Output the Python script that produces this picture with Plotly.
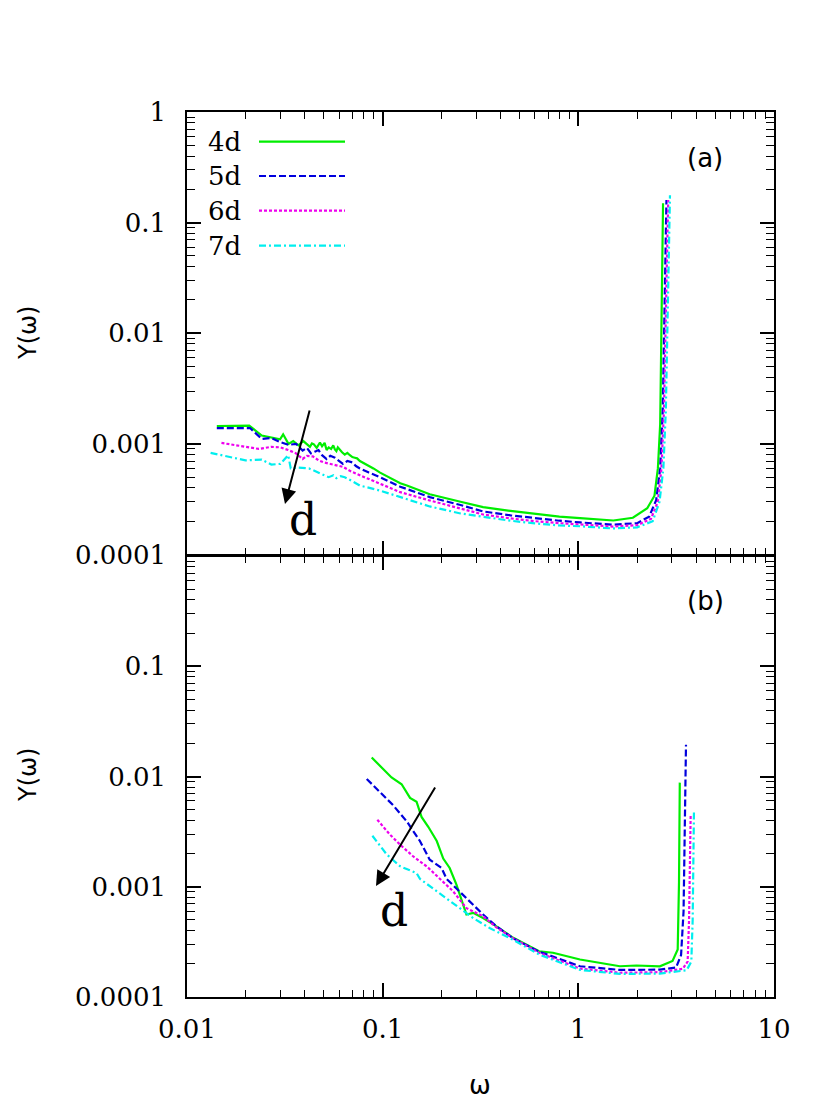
import plotly.graph_objects as go
from plotly.subplots import make_subplots

# ---------------- panel (a) ----------------
w_a_4d = [0.0142, 0.0208, 0.0241, 0.027, 0.0299, 0.031, 0.033, 0.0349, 0.0371, 0.0393, 0.0415, 0.0425,
          0.0435, 0.0445, 0.046, 0.0478, 0.049, 0.0505, 0.0517, 0.053, 0.0545, 0.0559, 0.057, 0.058, 0.059,
          0.0605, 0.062, 0.064, 0.066, 0.068, 0.070, 0.072, 0.074, 0.0765, 0.079, 0.082, 0.0897,
          0.097, 0.105, 0.123, 0.133, 0.174, 0.25, 0.326, 0.45, 0.587, 0.8, 1.02, 1.51, 1.9, 2.25,
          2.45, 2.55, 2.62, 2.66, 2.69, 2.71]
y_a_4d = [0.00145, 0.00146, 0.00119, 0.00114, 0.0011, 0.00122, 0.00100, 0.00106, 0.00097, 0.00106, 0.00098, 0.00094,
          0.00101, 0.00099, 0.00092, 0.00103, 0.00095, 0.00102, 0.00088, 0.00093, 0.00090, 0.00097, 0.00089, 0.00086, 0.00093,
          0.00088, 0.00084, 0.00080, 0.00083, 0.00079, 0.00076, 0.00075, 0.00074, 0.00070, 0.00068, 0.00066, 0.00060,
          0.00055, 0.00051, 0.00044, 0.00042, 0.00035, 0.00030, 0.000268, 0.000248, 0.000233, 0.00022, 0.000213,
          0.000203, 0.000215, 0.000262, 0.00034, 0.0006, 0.0015, 0.008, 0.05, 0.15]

w_a_5d = [0.0142, 0.021, 0.0241, 0.027, 0.0299, 0.033, 0.0361, 0.039, 0.041, 0.043, 0.045, 0.047, 0.049,
          0.0517, 0.054, 0.057, 0.060, 0.0627, 0.066, 0.07, 0.073, 0.0765, 0.085, 0.097, 0.123, 0.174,
          0.25, 0.326, 0.45, 0.6, 0.8, 1.02, 1.5, 2.0, 2.3, 2.5, 2.62, 2.7, 2.75, 2.79, 2.82]
y_a_5d = [0.00139, 0.00139, 0.00111, 0.00113, 0.00104, 0.00098, 0.00100, 0.00087, 0.00092, 0.00082, 0.00085, 0.00088,
          0.00079, 0.00073, 0.00078, 0.00075, 0.00070, 0.00066, 0.00070, 0.00068, 0.00063, 0.00060, 0.00055, 0.00050,
          0.00041, 0.00033, 0.00028, 0.000245, 0.000226, 0.000212, 0.000202, 0.000195, 0.000186, 0.000192, 0.00022,
          0.00031, 0.0006, 0.002, 0.01, 0.05, 0.16]

w_a_6d = [0.015, 0.0199, 0.0233, 0.027, 0.030, 0.0329, 0.0361, 0.039, 0.041, 0.044, 0.047, 0.050, 0.055,
          0.058, 0.0627, 0.068, 0.0765, 0.096, 0.123, 0.174, 0.25, 0.326, 0.45, 0.6, 0.8, 1.02, 1.5, 2.0,
          2.35, 2.55, 2.66, 2.74, 2.8, 2.84, 2.88]
y_a_6d = [0.00102, 0.00094, 0.00090, 0.00094, 0.00093, 0.00088, 0.00082, 0.00073, 0.00078, 0.00077, 0.00071, 0.00068,
          0.00066, 0.00064, 0.00062, 0.00057, 0.00052, 0.00044, 0.000366, 0.000308, 0.00026, 0.00023, 0.000212, 0.0002,
          0.000192, 0.000187, 0.000179, 0.000184, 0.00021, 0.0003, 0.0006, 0.002, 0.01, 0.05, 0.16]

w_a_7d = [0.0132, 0.0164, 0.0199, 0.0241, 0.027, 0.030, 0.0329, 0.0339, 0.037, 0.042, 0.046, 0.050,
          0.053, 0.056, 0.058, 0.061, 0.064, 0.07, 0.0765, 0.096, 0.123, 0.174, 0.25, 0.326, 0.45, 0.6,
          0.8, 1.02, 1.5, 2.0, 2.4, 2.6, 2.72, 2.8, 2.86, 2.9, 2.94]
y_a_7d = [0.00083, 0.00076, 0.00071, 0.00072, 0.00065, 0.00066, 0.00079, 0.00060, 0.00061, 0.00060, 0.00056, 0.00053,
          0.00050, 0.00052, 0.00049, 0.00051, 0.00050, 0.00046, 0.00042, 0.00038, 0.00033, 0.000272, 0.000235,
          0.000218, 0.000202, 0.000191, 0.000183, 0.00018, 0.000172, 0.000176, 0.0002, 0.0003, 0.0006, 0.002, 0.01,
          0.05, 0.177]

# ---------------- panel (b) ----------------
w_b_4d = [0.0879, 0.111, 0.125, 0.138, 0.149, 0.158, 0.171, 0.189, 0.204, 0.22, 0.238, 0.253, 0.268,
          0.29, 0.326, 0.38, 0.465, 0.63, 0.742, 1.02, 1.63, 1.98, 2.61, 3.03, 3.22, 3.27, 3.3]
y_b_4d = [0.01486, 0.0098, 0.0085, 0.0064, 0.0059, 0.0043, 0.0035, 0.0026, 0.0018, 0.00148, 0.00105, 0.00074, 0.00056,
          0.00058, 0.00052, 0.00044, 0.000344, 0.00026, 0.000252, 0.000219, 0.00019, 0.000193, 0.00019, 0.000212,
          0.00027, 0.0011, 0.0088]

w_b_5d = [0.0829, 0.113, 0.133, 0.155, 0.174, 0.189, 0.2, 0.212, 0.238, 0.268, 0.29, 0.326, 0.38, 0.465,
          0.63, 1.02, 1.63, 2.61, 3.16, 3.35, 3.45, 3.52, 3.55]
y_b_5d = [0.0095, 0.0055, 0.0039, 0.0026, 0.00176, 0.00159, 0.00148, 0.00118, 0.00096, 0.00078, 0.00068, 0.00056,
          0.00044, 0.00034, 0.000258, 0.00019, 0.000176, 0.000177, 0.000185, 0.00024, 0.0006, 0.004, 0.0194]

w_b_6d = [0.0939, 0.109, 0.123, 0.143, 0.168, 0.197, 0.229, 0.268, 0.326, 0.38, 0.465, 0.63, 1.02, 1.63,
          2.61, 3.42, 3.62, 3.68, 3.72, 3.75]
y_b_6d = [0.00405, 0.00297, 0.0024, 0.00189, 0.00153, 0.00118, 0.00091, 0.00064, 0.00054, 0.00043, 0.00034, 0.000252,
          0.000181, 0.000166, 0.000168, 0.00018, 0.00021, 0.0005, 0.0018, 0.0045]

w_b_7d = [0.0886, 0.105, 0.123, 0.149, 0.155, 0.181, 0.22, 0.257, 0.29, 0.354, 0.465, 0.63, 1.02, 1.63,
          2.61, 3.58, 3.78, 3.84, 3.88, 3.9]
y_b_7d = [0.0029, 0.00196, 0.00153, 0.00133, 0.00118, 0.00096, 0.00074, 0.0006, 0.00052, 0.00042, 0.00033, 0.000243,
          0.000176, 0.000162, 0.000163, 0.000175, 0.00021, 0.0005, 0.002, 0.005]

series_names = ["4d", "5d", "6d", "7d"]
colors = ["#00ee00", "#0000dd", "#ee00ee", "#00eeee"]
dashes = ["solid", "7px,3px", "3px,2px", "7px,3px,2px,3px"]

panel_a = [(w_a_4d, y_a_4d), (w_a_5d, y_a_5d), (w_a_6d, y_a_6d), (w_a_7d, y_a_7d)]
panel_b = [(w_b_4d, y_b_4d), (w_b_5d, y_b_5d), (w_b_6d, y_b_6d), (w_b_7d, y_b_7d)]

x_major = [0.01, 0.1, 1, 10]
x_labels = ["0.01", "0.1", "1", "10"]
y_major_a = [0.0001, 0.001, 0.01, 0.1, 1]
y_labels_a = ["0.0001", "0.001", "0.01", "0.1", "1"]
y_major_b = [0.0001, 0.001, 0.01, 0.1]
y_labels_b = ["0.0001", "0.001", "0.01", "0.1"]

x_minor = [k * 10.0 ** e for e in range(-2, 1) for k in range(2, 10)]
y_minor = [k * 10.0 ** e for e in range(-4, 0) for k in range(2, 10)]

fig = make_subplots(rows=2, cols=1, shared_xaxes=True, vertical_spacing=0)

for i in range(4):
    fig.add_trace(go.Scatter(x=panel_a[i][0], y=panel_a[i][1], mode="lines", name=series_names[i],
                             line=dict(color=colors[i], width=2.2, dash=dashes[i]), showlegend=False),
                  row=1, col=1)
    fig.add_trace(go.Scatter(x=panel_b[i][0], y=panel_b[i][1], mode="lines", name=series_names[i],
                             line=dict(color=colors[i], width=2.2, dash=dashes[i]), showlegend=False),
                  row=2, col=1)

SERIF = "DejaVu Serif"
SANS = "DejaVu Sans"
tickfont = dict(family=SERIF, size=26, color="black")
LW = 1.5

common_x = dict(type="log", range=[-2, 1], showgrid=False, zeroline=False,
                showline=True, linecolor="black", linewidth=LW, mirror="ticks",
                ticks="inside", ticklen=14, tickwidth=1.5, tickcolor="black",
                tickmode="array", tickvals=x_major,
                minor=dict(ticks="inside", ticklen=7, tickwidth=1.2, tickcolor="black",
                           tickmode="array", tickvals=x_minor, showgrid=False))
fig.update_xaxes(**common_x, ticktext=x_labels, tickfont=tickfont, row=2, col=1, ticklabelstandoff=8)
fig.update_xaxes(**common_x, showticklabels=False, row=1, col=1)

# page body has an 8px margin: figure is placed at (8, 8)
OFF = 8
W, H = 830 - OFF, 1107 - OFF
L, R, T, B = 187 - OFF, 56, 112 - OFF, 110
PW, PH = W - L - R, H - T - B

common_y = dict(type="log", range=[-4, 0], showgrid=False, zeroline=False,
                showline=True, linecolor="black", linewidth=LW, mirror="ticks",
                ticks="inside", ticklen=14, tickwidth=1.5, tickcolor="black",
                tickmode="array", tickfont=tickfont, ticklabelstandoff=14,
                minor=dict(ticks="inside", ticklen=8, tickwidth=1.2, tickcolor="black",
                           tickmode="array", tickvals=y_minor, showgrid=False))
fig.update_yaxes(**common_y, tickvals=y_major_a, ticktext=y_labels_a, domain=[0.5, 1.0], row=1, col=1)
# shrink lower panel by one line width so the shared border is drawn as a single line
fig.update_yaxes(**common_y, tickvals=y_major_b, ticktext=y_labels_b, domain=[0.0, 0.5 - LW / PH], row=2, col=1)


def px(xp):
    return (xp - OFF - L) / PW


def py(yp):
    return (OFF + H - B - yp) / PH


annotations = []
shapes = []
# legend (text left of sample line)
legend_y = [141.7, 176, 210.7, 245.7]
for i in range(4):
    annotations.append(dict(xref="paper", yref="paper", x=px(243), y=py(legend_y[i]), text=series_names[i],
                            showarrow=False, xanchor="right", yanchor="middle",
                            font=dict(family=SERIF, size=26, color="black")))
    shapes.append(dict(type="line", xref="paper", yref="paper", x0=px(259), x1=px(345),
                       y0=py(legend_y[i]), y1=py(legend_y[i]),
                       line=dict(color=colors[i], width=2.2, dash=dashes[i])))


def label(xp, yp, text, family, size, angle=0):
    return dict(xref="paper", yref="paper", x=px(xp), y=py(yp), text=text, showarrow=False,
                xanchor="center", yanchor="middle", textangle=angle,
                font=dict(family=family, size=size, color="black"))


# panel labels
annotations.append(label(705, 158, "(a)", SANS, 26))
annotations.append(label(705, 601, "(b)", SANS, 26))

# arrows and "d"
annotations.append(dict(xref="paper", yref="paper", x=px(285), y=py(504), ax=25, ay=-95, text="",
                        showarrow=True, arrowhead=2, arrowsize=1.5, arrowwidth=2, arrowcolor="black"))
annotations.append(label(303, 520, "d", SERIF, 44))
annotations.append(dict(xref="paper", yref="paper", x=px(376), y=py(886), ax=60, ay=-100, text="",
                        showarrow=True, arrowhead=2, arrowsize=1.5, arrowwidth=2, arrowcolor="black"))
annotations.append(label(394, 910, "d", SERIF, 44))

# axis titles
annotations.append(label(28, 333, "Y(ω)", SANS, 24, -90))
annotations.append(label(28, 775, "Y(ω)", SANS, 24, -90))
annotations.append(label(480, 1085, "ω", SANS, 26))

fig.update_layout(width=W, height=H, margin=dict(l=L, r=R, t=T, b=B, pad=0),
                  plot_bgcolor="white", paper_bgcolor="white", showlegend=False,
                  annotations=annotations, shapes=shapes)

fig.write_html("out.html")
